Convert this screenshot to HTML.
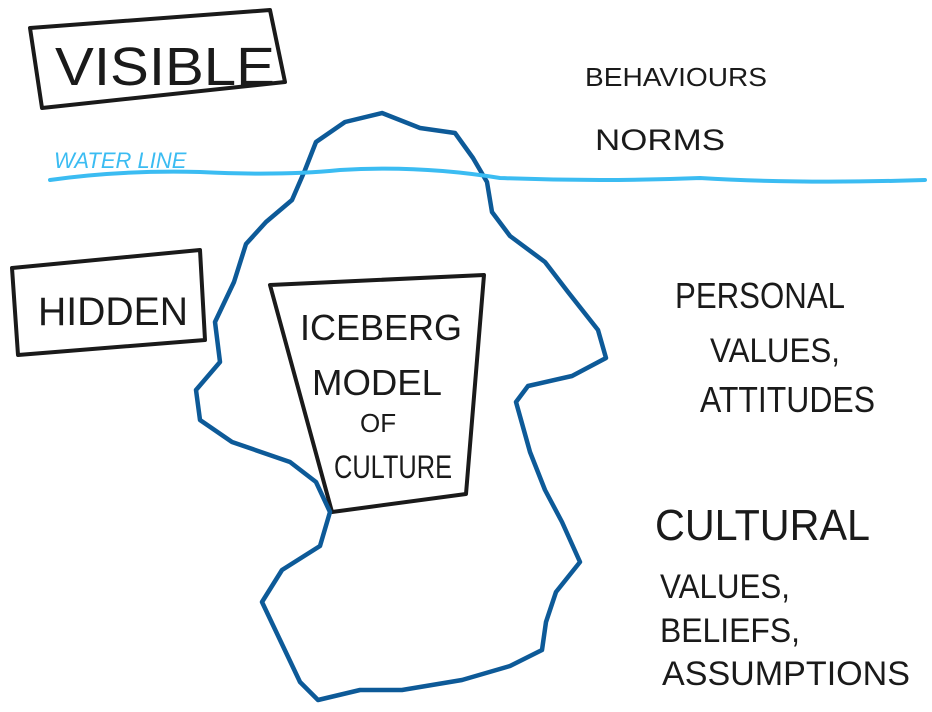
<!DOCTYPE html>
<html><head><meta charset="utf-8"><style>
html,body{margin:0;padding:0;background:#fff;}
svg{display:block;}
text{font-family:"Liberation Sans",sans-serif;fill:#1a1a1a;}
</style></head><body>
<svg width="932" height="712" viewBox="0 0 932 712" xmlns="http://www.w3.org/2000/svg">
<g fill="none" stroke="#1a1a1a" stroke-width="4" stroke-linejoin="round" stroke-linecap="round">
<path d="M30 28 L270 10 L285 82 L42 108 Z"/>
<path d="M12 268 L200 250 L205 340 L18 355 Z"/>
<path d="M270 285 L484 275 L466 494 L332 512 Z"/>
</g>
<path fill="none" stroke="#0d5a98" stroke-width="4.5" stroke-linejoin="round" d="M345 122 L382 113 L420 128 L455 133 L473 158 L487 182 L492 212 L510 236 L545 262 L568 292 L598 330 L606 358 L572 376 L528 386 L516 402 L530 452 L545 490 L562 522 L580 562 L556 592 L546 622 L542 650 L510 666 L462 680 L402 690 L360 690 L318 700 L300 682 L281 642 L262 602 L282 570 L320 546 L330 512 L316 482 L290 462 L232 442 L200 420 L196 390 L220 362 L215 322 L234 282 L246 244 L266 222 L292 200 L305 170 L316 142 Z"/>
<path fill="none" stroke="#3bbcf2" stroke-width="4" stroke-linecap="round" d="M50 180 Q120 170 200 172 Q280 176 340 170 Q420 165 500 178 Q600 182 700 178 Q800 184 925 180"/>
<text x="54" y="168" font-size="22" style="fill:#3bbcf2" font-style="italic">WATER LINE</text>
<text x="55" y="85" font-size="54" textLength="220" lengthAdjust="spacingAndGlyphs">VISIBLE</text>
<text x="38" y="325" font-size="40" textLength="150" lengthAdjust="spacingAndGlyphs">HIDDEN</text>
<text x="300" y="340" font-size="36" textLength="162" lengthAdjust="spacingAndGlyphs">ICEBERG</text>
<text x="312" y="395" font-size="36" textLength="130" lengthAdjust="spacingAndGlyphs">MODEL</text>
<text x="360" y="432" font-size="26">OF</text>
<text x="334" y="478" font-size="32" textLength="118" lengthAdjust="spacingAndGlyphs">CULTURE</text>
<text x="585" y="86" font-size="26" textLength="182" lengthAdjust="spacingAndGlyphs">BEHAVIOURS</text>
<text x="595" y="150" font-size="30" textLength="130" lengthAdjust="spacingAndGlyphs">NORMS</text>
<text x="675" y="308" font-size="36" textLength="170" lengthAdjust="spacingAndGlyphs">PERSONAL</text>
<text x="710" y="362" font-size="34" textLength="130" lengthAdjust="spacingAndGlyphs">VALUES,</text>
<text x="700" y="412" font-size="36" textLength="175" lengthAdjust="spacingAndGlyphs">ATTITUDES</text>
<text x="655" y="540" font-size="44" textLength="215" lengthAdjust="spacingAndGlyphs">CULTURAL</text>
<text x="660" y="598" font-size="34" textLength="130" lengthAdjust="spacingAndGlyphs">VALUES,</text>
<text x="660" y="642" font-size="34" textLength="140" lengthAdjust="spacingAndGlyphs">BELIEFS,</text>
<text x="662" y="685" font-size="34" textLength="248" lengthAdjust="spacingAndGlyphs">ASSUMPTIONS</text>
</svg>
</body></html>
